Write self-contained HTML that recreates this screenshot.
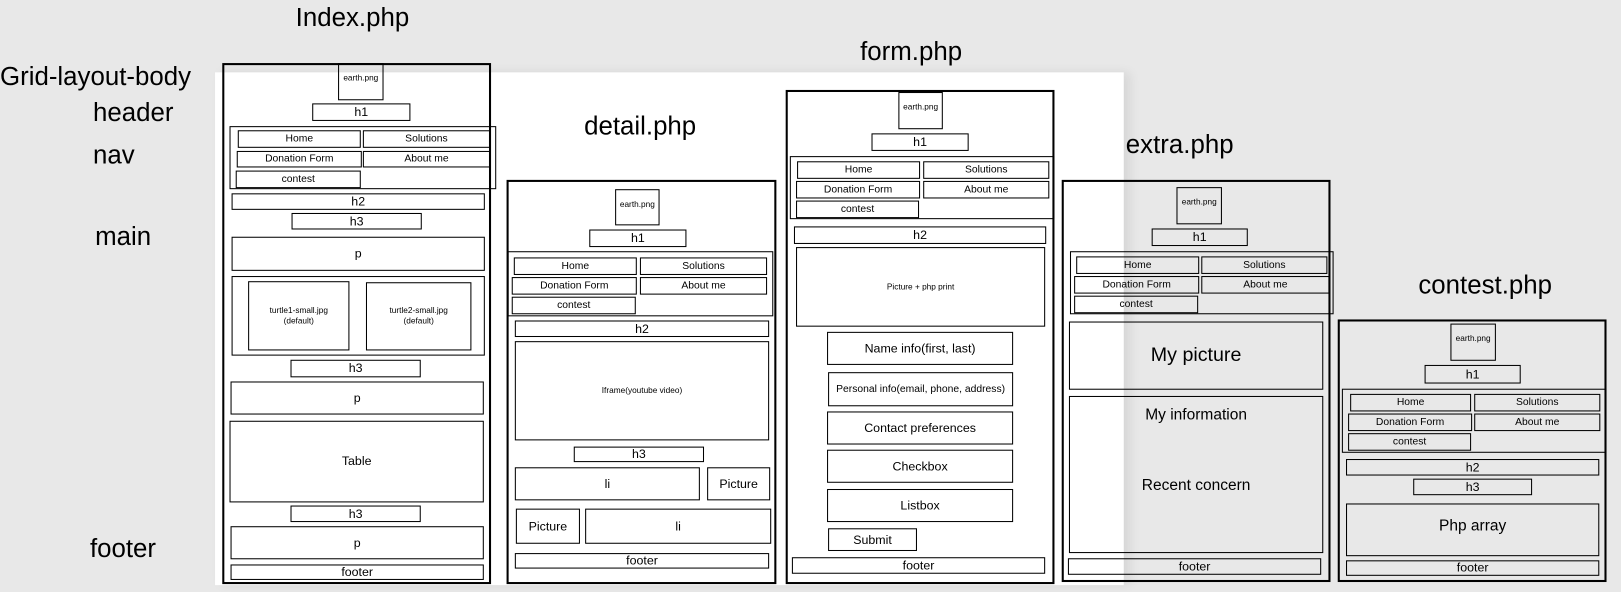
<!DOCTYPE html>
<html><head><meta charset="utf-8"><style>
html,body{margin:0;padding:0;width:1621px;height:592px;overflow:hidden;background:#e8e8e8;font-family:"Liberation Sans","DejaVu Sans",sans-serif;}
#w{position:absolute;left:0;top:0;width:1568px;height:573px;transform:scale(1.0338);transform-origin:0 0;}
.b{position:absolute;box-sizing:border-box;border:1px solid #000;display:flex;align-items:center;justify-content:center;text-align:center;font-size:10px;color:#000;line-height:1.2;}
.f{border:2px solid #000;}
.t{position:absolute;font-size:25px;white-space:nowrap;color:#000;}
.s{font-size:12px;}
.m{font-size:8px;}
.e{font-size:8px;align-items:flex-start;padding-top:9px;}
</style></head><body><div id="w">
<div style="position:absolute;left:208px;top:70px;width:879px;height:496px;background:#fff;box-shadow:6px 0 10px rgba(0,0,0,0.08);"></div>

<div class="t" style="left:286px;top:3px">Index.php</div>
<div class="t" style="left:0px;top:60px">Grid-layout-body</div>
<div class="t" style="left:90px;top:95px">header</div>
<div class="t" style="left:90px;top:136px">nav</div>
<div class="t" style="left:92px;top:215px">main</div>
<div class="t" style="left:87px;top:517px">footer</div>
<div class="t" style="left:565px;top:108px">detail.php</div>
<div class="t" style="left:832px;top:36px">form.php</div>
<div class="t" style="left:1089px;top:126px">extra.php</div>
<div class="t" style="left:1372px;top:262px">contest.php</div>

<!-- index -->
<div class="b f" style="left:215px;top:61px;width:260px;height:504px"></div>
<div class="b e" style="left:327px;top:61px;width:44px;height:36px">earth.png</div>
<div class="b s" style="left:302px;top:100px;width:95px;height:17px">h1</div>
<div class="b" style="left:222px;top:122px;width:258px;height:61px"></div>
<div class="b" style="left:230px;top:126px;width:119px;height:17px">Home</div>
<div class="b" style="left:351px;top:126px;width:123px;height:17px">Solutions</div>
<div class="b" style="left:229px;top:146px;width:121px;height:16px">Donation Form</div>
<div class="b" style="left:351px;top:146px;width:123px;height:16px">About me</div>
<div class="b" style="left:228px;top:165px;width:121px;height:17px">contest</div>
<div class="b s" style="left:224px;top:187px;width:245px;height:16px">h2</div>
<div class="b s" style="left:282px;top:206px;width:126px;height:16px">h3</div>
<div class="b s" style="left:224px;top:229px;width:245px;height:33px">p</div>
<div class="b" style="left:224px;top:267px;width:245px;height:77px"></div>
<div class="b m" style="left:240px;top:272px;width:98px;height:67px">turtle1-small.jpg<br>(default)</div>
<div class="b m" style="left:354px;top:273px;width:102px;height:66px">turtle2-small.jpg<br>(default)</div>
<div class="b s" style="left:281px;top:348px;width:126px;height:17px">h3</div>
<div class="b s" style="left:223px;top:369px;width:245px;height:32px">p</div>
<div class="b s" style="left:222px;top:407px;width:246px;height:79px">Table</div>
<div class="b s" style="left:281px;top:489px;width:126px;height:16px">h3</div>
<div class="b s" style="left:223px;top:509px;width:245px;height:32px">p</div>
<div class="b s" style="left:223px;top:546px;width:245px;height:15px">footer</div>

<!-- detail -->
<div class="b f" style="left:490px;top:174px;width:261px;height:391px"></div>
<div class="b e" style="left:595px;top:183px;width:43px;height:35px">earth.png</div>
<div class="b s" style="left:570px;top:222px;width:94px;height:17px">h1</div>
<div class="b" style="left:491px;top:243px;width:257px;height:63px"></div>
<div class="b" style="left:497px;top:249px;width:119px;height:17px">Home</div>
<div class="b" style="left:619px;top:249px;width:123px;height:17px">Solutions</div>
<div class="b" style="left:495px;top:268px;width:121px;height:17px">Donation Form</div>
<div class="b" style="left:619px;top:268px;width:123px;height:17px">About me</div>
<div class="b" style="left:495px;top:287px;width:120px;height:17px">contest</div>
<div class="b s" style="left:498px;top:310px;width:246px;height:16px">h2</div>
<div class="b m" style="left:498px;top:330px;width:246px;height:96px">Iframe(youtube video)</div>
<div class="b s" style="left:555px;top:432px;width:126px;height:15px">h3</div>
<div class="b s" style="left:498px;top:452px;width:179px;height:32px">li</div>
<div class="b s" style="left:684px;top:452px;width:61px;height:32px">Picture</div>
<div class="b s" style="left:499px;top:492px;width:62px;height:34px">Picture</div>
<div class="b s" style="left:566px;top:492px;width:180px;height:34px">li</div>
<div class="b s" style="left:498px;top:535px;width:246px;height:15px">footer</div>

<!-- form -->
<div class="b f" style="left:760px;top:87px;width:260px;height:478px"></div>
<div class="b e" style="left:869px;top:89px;width:43px;height:36px">earth.png</div>
<div class="b s" style="left:843px;top:129px;width:94px;height:17px">h1</div>
<div class="b" style="left:764px;top:151px;width:256px;height:61px"></div>
<div class="b" style="left:771px;top:156px;width:119px;height:17px">Home</div>
<div class="b" style="left:893px;top:156px;width:122px;height:17px">Solutions</div>
<div class="b" style="left:770px;top:175px;width:120px;height:17px">Donation Form</div>
<div class="b" style="left:893px;top:175px;width:122px;height:17px">About me</div>
<div class="b" style="left:770px;top:194px;width:119px;height:17px">contest</div>
<div class="b s" style="left:768px;top:219px;width:244px;height:17px">h2</div>
<div class="b m" style="left:770px;top:239px;width:241px;height:77px">Picture + php print</div>
<div class="b s" style="left:800px;top:321px;width:180px;height:32px">Name info(first, last)</div>
<div class="b" style="left:801px;top:360px;width:179px;height:33px">Personal info(email, phone, address)</div>
<div class="b s" style="left:800px;top:398px;width:180px;height:32px">Contact preferences</div>
<div class="b s" style="left:800px;top:435px;width:180px;height:32px">Checkbox</div>
<div class="b s" style="left:800px;top:473px;width:180px;height:32px">Listbox</div>
<div class="b s" style="left:801px;top:511px;width:86px;height:22px">Submit</div>
<div class="b s" style="left:766px;top:539px;width:245px;height:16px">footer</div>

<!-- extra -->
<div class="b f" style="left:1027px;top:174px;width:260px;height:389px"></div>
<div class="b e" style="left:1138px;top:181px;width:44px;height:36px">earth.png</div>
<div class="b s" style="left:1114px;top:221px;width:93px;height:17px">h1</div>
<div class="b" style="left:1035px;top:243px;width:255px;height:61px"></div>
<div class="b" style="left:1041px;top:248px;width:119px;height:17px">Home</div>
<div class="b" style="left:1162px;top:248px;width:122px;height:17px">Solutions</div>
<div class="b" style="left:1039px;top:267px;width:121px;height:17px">Donation Form</div>
<div class="b" style="left:1162px;top:267px;width:124px;height:17px">About me</div>
<div class="b" style="left:1039px;top:286px;width:120px;height:17px">contest</div>
<div class="b" style="left:1034px;top:311px;width:246px;height:66px;font-size:19px">My picture</div>
<div class="b" style="left:1034px;top:383px;width:246px;height:152px"></div>
<div class="t" style="left:1034px;top:393px;width:246px;text-align:center;font-size:15px">My information</div>
<div class="t" style="left:1034px;top:461px;width:246px;text-align:center;font-size:15px">Recent concern</div>
<div class="b s" style="left:1033px;top:540px;width:245px;height:16px">footer</div>

<!-- contest -->
<div class="b f" style="left:1294px;top:309px;width:260px;height:254px"></div>
<div class="b e" style="left:1403px;top:313px;width:44px;height:36px">earth.png</div>
<div class="b s" style="left:1378px;top:353px;width:93px;height:18px">h1</div>
<div class="b" style="left:1298px;top:376px;width:256px;height:62px"></div>
<div class="b" style="left:1306px;top:381px;width:117px;height:17px">Home</div>
<div class="b" style="left:1426px;top:381px;width:122px;height:17px">Solutions</div>
<div class="b" style="left:1304px;top:400px;width:120px;height:17px">Donation Form</div>
<div class="b" style="left:1426px;top:400px;width:122px;height:17px">About me</div>
<div class="b" style="left:1304px;top:419px;width:119px;height:17px">contest</div>
<div class="b s" style="left:1302px;top:444px;width:245px;height:16px">h2</div>
<div class="b s" style="left:1367px;top:463px;width:115px;height:16px">h3</div>
<div class="b" style="left:1302px;top:487px;width:245px;height:51px;font-size:15px;align-items:flex-start;padding-top:12px">Php array</div>
<div class="b s" style="left:1302px;top:542px;width:245px;height:15px">footer</div>
</div></body></html>
